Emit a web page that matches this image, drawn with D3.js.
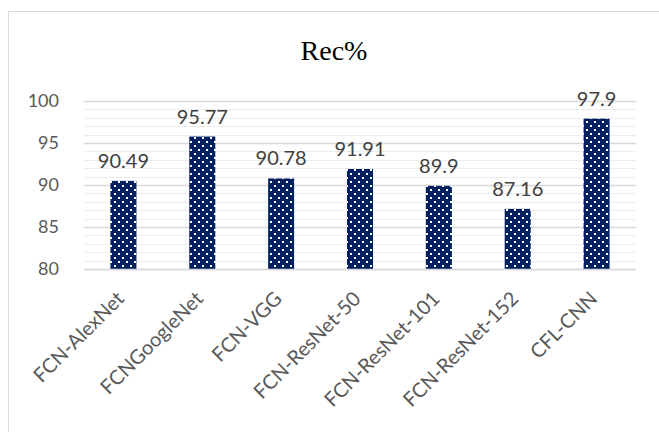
<!DOCTYPE html>
<html><head><meta charset="utf-8">
<script src="https://cdn.jsdelivr.net/npm/d3@7"></script>
<style>html,body{margin:0;padding:0;background:#fff;overflow:hidden}</style>
</head><body>
<script>
const categories = ["FCN-AlexNet","FCNGoogleNet","FCN-VGG","FCN-ResNet-50","FCN-ResNet-101","FCN-ResNet-152","CFL-CNN"];
const values = [90.49, 95.77, 90.78, 91.91, 89.9, 87.16, 97.9];
const valueLabels = ["90.49","95.77","90.78","91.91","89.9","87.16","97.9"];
const yTicks = [80, 85, 90, 95, 100];
const title = "Rec%";

const W = 659, H = 432;
const svg = d3.select("body").append("svg").attr("width", W).attr("height", H);
const font = "Lato, 'Open Sans', sans-serif";

const defs = svg.append("defs");
const pat = defs.append("pattern").attr("id","dots").attr("patternUnits","userSpaceOnUse")
  .attr("width",8).attr("height",8);
pat.append("rect").attr("width",8).attr("height",8).attr("fill","#002060");
pat.append("rect").attr("x",2).attr("y",1).attr("width",2).attr("height",2).attr("fill","#fff");
pat.append("rect").attr("x",6).attr("y",5).attr("width",2).attr("height",2).attr("fill","#fff");

svg.append("rect").attr("x",8.5).attr("y",11.5).attr("width",W+20).attr("height",H+20)
  .attr("fill","#fff").attr("stroke","#d9d9d9").attr("stroke-width",1);

const x = d3.scaleBand().domain(categories).range([84,636]).paddingInner(0.67).paddingOuter(0.335);
const y = d3.scaleLinear().domain([80,100]).range([269,101]);

// minor gridlines
const minor = d3.range(81,100).filter(v => v % 5 !== 0);
svg.append("g").selectAll("line").data(minor).join("line")
  .attr("x1",84).attr("x2",636).attr("y1",d=>Math.round(y(d))+0.5).attr("y2",d=>Math.round(y(d))+0.5)
  .attr("stroke","#ececec").attr("stroke-width",1);

const yAxis = d3.axisLeft(y).tickValues(yTicks).tickSize(-552).tickPadding(25);
const gy = svg.append("g").attr("transform","translate(84,0)").call(yAxis);
gy.select(".domain").remove();
gy.selectAll(".tick line").attr("stroke","#d9d9d9").attr("stroke-width",1.3);
gy.selectAll(".tick text").attr("fill","#595959").style("font-family",font).style("font-size","18px");

svg.append("g").selectAll("rect").data(values).join("rect")
  .attr("x",(d,i)=>x(categories[i])).attr("width",x.bandwidth())
  .attr("y",d=>y(d)).attr("height",d=>y(80)-y(d))
  .attr("fill","url(#dots)");

const xAxis = d3.axisBottom(x).tickSize(0).tickPadding(0);
const gx = svg.append("g").attr("transform","translate(0,269)").call(xAxis);
gx.select(".domain").attr("stroke","#d9d9d9").attr("stroke-width",1.3).attr("d","M84,0.5H636");
gx.selectAll(".tick text").attr("fill","#595959").style("font-family",font).style("font-size","20px")
  .attr("text-anchor","end").attr("dy",0).attr("y",0)
  .attr("transform","translate(2,31) rotate(-45)");

svg.append("g").selectAll("text").data(values).join("text")
  .attr("x",(d,i)=>x(categories[i])+x.bandwidth()/2).attr("y",d=>y(d)-13)
  .attr("text-anchor","middle").attr("fill","#404040")
  .style("font-family",font).style("font-size","20px")
  .text((d,i)=>valueLabels[i]);

svg.append("text").attr("x",334).attr("y",60).attr("text-anchor","middle")
  .style("font-family","'Liberation Serif','Times New Roman',serif").style("font-size","28px")
  .attr("fill","#000").text(title);
</script>
</body></html>
